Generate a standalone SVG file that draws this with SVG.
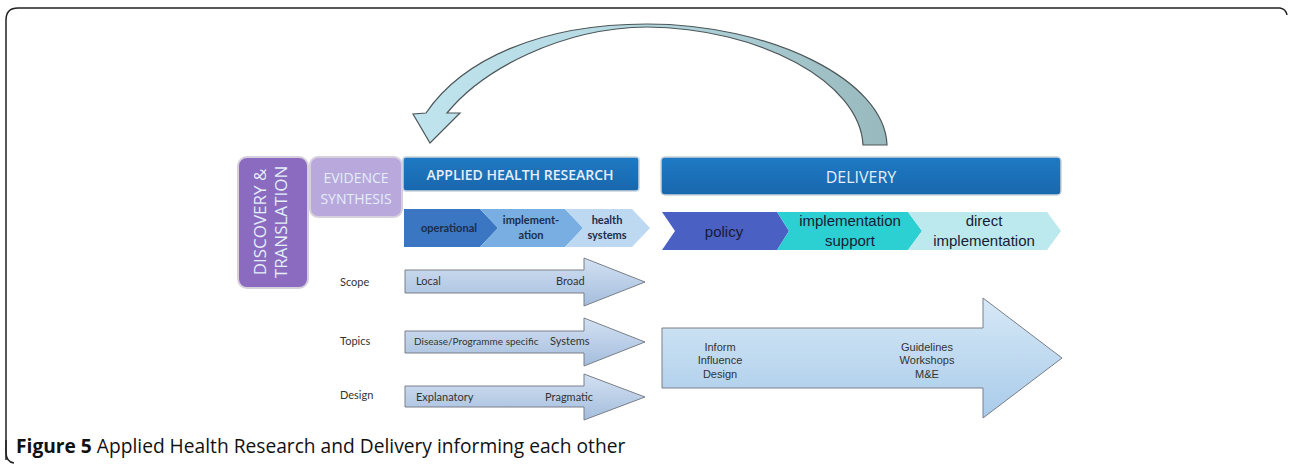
<svg xmlns="http://www.w3.org/2000/svg" width="1289" height="465" viewBox="0 0 1289 465">
<style>
.lbl{font-family:Lato,"Open Sans",sans-serif;font-size:11px;fill:#333}
.dlbl{font-family:"Liberation Sans",Arial,sans-serif;font-size:11px;fill:#333}
.chev{font-family:Lato,"Open Sans",sans-serif;font-size:11px;font-weight:bold;fill:#1c2c4a}
.dchev{font-family:"Liberation Sans",Arial,sans-serif;font-size:15px;fill:#1a1a33}
.hdr{font-family:"Open Sans",Lato,sans-serif;fill:#e4eef9}
.arr{stroke:#7a7f88;stroke-width:1}
.cap{font-family:"Open Sans",sans-serif;font-size:19.2px;fill:#111}
</style>
<defs>
<linearGradient id="gArr" x1="0" y1="0" x2="0" y2="1">
<stop offset="0" stop-color="#d3e1f2"/><stop offset="1" stop-color="#a4bddd"/>
</linearGradient>
<linearGradient id="gBig" x1="0" y1="0" x2="0" y2="1">
<stop offset="0" stop-color="#d6e8f6"/><stop offset="1" stop-color="#a9cbea"/>
</linearGradient>
<linearGradient id="gCurve" x1="0" y1="0" x2="1" y2="0">
<stop offset="0" stop-color="#bfe4ee"/><stop offset="0.5" stop-color="#b3d7df"/><stop offset="1" stop-color="#98b9bd"/>
</linearGradient>
<linearGradient id="gBlue" x1="0" y1="0" x2="0" y2="1">
<stop offset="0" stop-color="#1f7ac4"/><stop offset="1" stop-color="#1867ac"/>
</linearGradient>
</defs>

<path d="M6,460 L6,20 Q6,8 18,8 L1280,8 Q1286,9 1287,15" fill="none" stroke="#222" stroke-width="1.5"/>
<path d="M6,440 L6,452 Q6,462 14,463" fill="none" stroke="#222" stroke-width="1.5"/>

<g id="connectors">
<path id="feedback" d="M887,145 C885,80 770,24 647,24 C540,24 462,60 426,113 L413,114 L430,143 L460,113 L447,113 C482,70 560,28 647,27 C760,28 860,82 863,145 Z" fill="url(#gCurve)" stroke="#4d5658" stroke-width="1.2"/>
</g>

<g id="discovery">
<rect x="238" y="157" width="70" height="131" rx="9" fill="#8a6bc0" stroke="#d5d0dc" stroke-width="2"/>
<text class="hdr" transform="translate(266,222) rotate(-90)" text-anchor="middle" font-size="17" fill="#ddd4f2">DISCOVERY &amp;</text>
<text class="hdr" transform="translate(287,222) rotate(-90)" text-anchor="middle" font-size="17" fill="#ddd4f2">TRANSLATION</text>
</g>

<g id="evidence">
<rect x="310" y="157" width="92" height="60" rx="8" fill="#b9a8dc" stroke="#d5d0dc" stroke-width="2"/>
<text class="hdr" x="356" y="183" text-anchor="middle" font-size="14" fill="#f1ecfa">EVIDENCE</text>
<text class="hdr" x="356" y="204" text-anchor="middle" font-size="14" fill="#f1ecfa">SYNTHESIS</text>
</g>

<g id="ahr">
<rect x="403" y="157" width="236" height="34" rx="3" fill="url(#gBlue)" stroke="#c9d3dd" stroke-width="1.5"/>
<text class="hdr" x="520" y="180" text-anchor="middle" font-size="14" font-weight="600">APPLIED HEALTH RESEARCH</text>
</g>

<g id="ahr-chevrons">
<polygon points="404,209 480,209 498,228 480,247 404,247" fill="#3a76c2"/>
<polygon points="480,209 565,209 583,228 565,247 480,247 498,228" fill="#78aee2"/>
<polygon points="565,209 632,209 650,228 632,247 565,247 583,228" fill="#bdd8f1"/>
<text class="chev" x="449" y="232" text-anchor="middle">operational</text>
<text class="chev" x="531" y="224" text-anchor="middle">implement-</text>
<text class="chev" x="531" y="239" text-anchor="middle">ation</text>
<text class="chev" x="607" y="224" text-anchor="middle">health</text>
<text class="chev" x="607" y="239" text-anchor="middle">systems</text>
</g>

<g id="delivery">
<rect x="661" y="157" width="400" height="38" rx="4" fill="url(#gBlue)" stroke="#c9d3dd" stroke-width="1.5"/>
<text class="hdr" x="861" y="183" text-anchor="middle" font-size="16">DELIVERY</text>
</g>

<g id="delivery-chevrons">
<polygon points="662,212 777,212 789,231 777,250 662,250 675,231" fill="#4a60c2"/>
<polygon points="777,212 908,212 922,231 908,250 777,250 789,231" fill="#2ccfd2"/>
<polygon points="908,212 1047,212 1061,231 1047,250 908,250 922,231" fill="#bbe9ee"/>
<text class="dchev" x="724" y="237" text-anchor="middle">policy</text>
<text class="dchev" x="850" y="226" text-anchor="middle">implementation</text>
<text class="dchev" x="850" y="246" text-anchor="middle">support</text>
<text class="dchev" x="984" y="226" text-anchor="middle">direct</text>
<text class="dchev" x="984" y="246" text-anchor="middle">implementation</text>
</g>

<g id="scope">
<text class="lbl" x="340" y="286">Scope</text>
<polygon class="arr" points="405,270 584,270 584,258 645,282 584,306 584,293 405,293" fill="url(#gArr)"/>
<text class="lbl" x="416" y="285">Local</text>
<text class="lbl" x="556" y="285">Broad</text>
</g>

<g id="topics">
<text class="lbl" x="340" y="345">Topics</text>
<polygon class="arr" points="405,331 584,331 584,318 645,342 584,366 584,353 405,353" fill="url(#gArr)"/>
<text class="lbl" x="414" y="345" style="font-size:10px">Disease/Programme specific</text>
<text class="lbl" x="550" y="345">Systems</text>
</g>

<g id="design">
<text class="lbl" x="340" y="399">Design</text>
<polygon class="arr" points="405,386 584,386 584,374 645,397 584,420 584,407 405,407" fill="url(#gArr)"/>
<text class="lbl" x="416" y="401">Explanatory</text>
<text class="lbl" x="545" y="401">Pragmatic</text>
</g>

<g id="big-arrow">
<polygon class="arr" points="662,328 983,328 983,298 1062,358 983,418 983,388 662,388" fill="url(#gBig)"/>
<text class="dlbl" x="720" y="351" text-anchor="middle">Inform</text>
<text class="dlbl" x="720" y="364" text-anchor="middle">Influence</text>
<text class="dlbl" x="720" y="378" text-anchor="middle">Design</text>
<text class="dlbl" x="927" y="351" text-anchor="middle">Guidelines</text>
<text class="dlbl" x="927" y="364" text-anchor="middle">Workshops</text>
<text class="dlbl" x="927" y="378" text-anchor="middle">M&amp;E</text>
</g>

<text class="cap" x="16" y="453"><tspan font-weight="bold">Figure 5</tspan> Applied Health Research and Delivery informing each other</text>
</svg>
